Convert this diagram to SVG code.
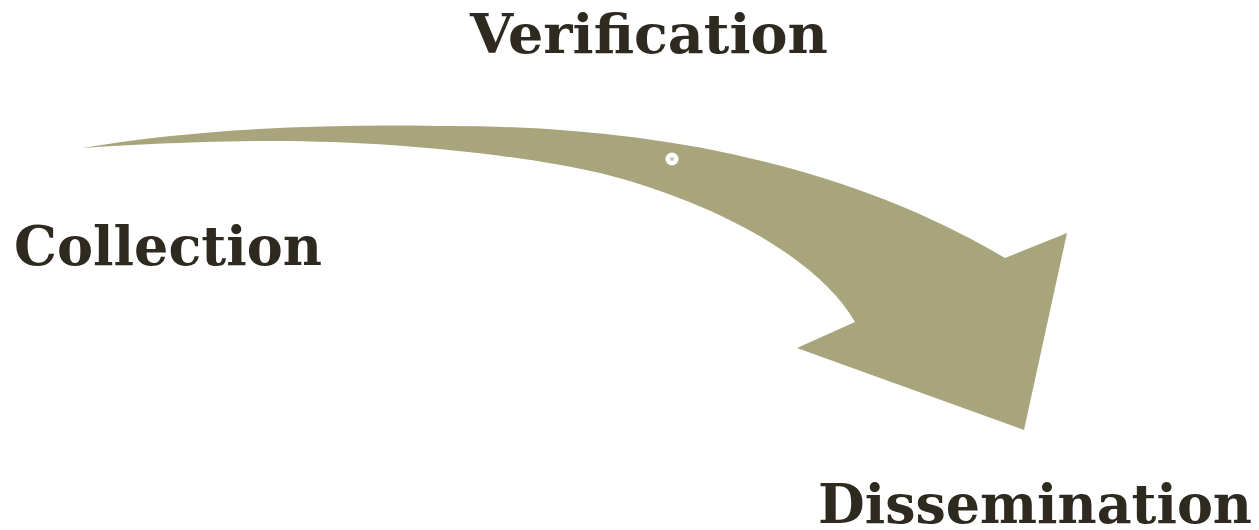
<svg xmlns="http://www.w3.org/2000/svg" width="1259" height="530" viewBox="0 0 1259 530">
<style>
.lbl{font-family:"DejaVu Serif","Liberation Serif",serif;font-weight:bold;font-size:55px;fill:#2e2a20}
.arrow{fill:#a8a57d}
</style>
<rect width="1259" height="530" fill="#ffffff"/>
<g id="connectors">
<path class="arrow" d="M82,148 C200,128 330,124 440,126 C640,125 840,160 1005,258 L1067,233 L1024,430 L797,348 L855,322 C818,258 715,202 600,173 C510,153 380,140 260,141 C180,142 130,145 82,148 Z"/>
<circle cx="672" cy="159" r="6.5" fill="#ffffff"/>
<circle cx="672" cy="159" r="2" fill="#c8c6b4"/>
</g>
<g id="verification"><text class="lbl" x="470" y="53" textLength="358" lengthAdjust="spacingAndGlyphs">Verification</text></g>
<g id="collection"><text class="lbl" x="14" y="265" textLength="308" lengthAdjust="spacingAndGlyphs">Collection</text></g>
<g id="dissemination"><text class="lbl" x="818" y="523" textLength="434" lengthAdjust="spacingAndGlyphs">Dissemination</text></g>
</svg>
